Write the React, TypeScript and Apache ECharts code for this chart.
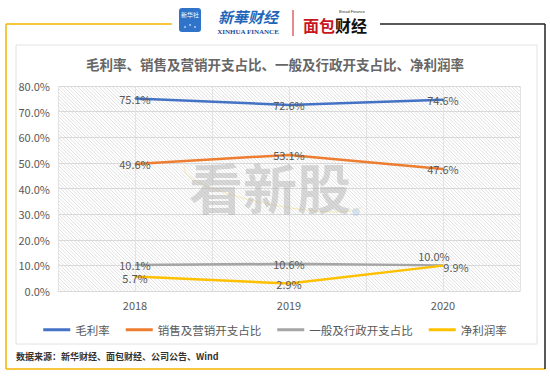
import { useEffect, useRef } from "react";
import * as echarts from "echarts";

const years = ["2018", "2019", "2020"];
const grossMargin = [75.1, 72.6, 74.6];
const sellingRatio = [49.6, 53.1, 47.6];
const adminRatio = [10.1, 10.6, 10.0];
const netMargin = [5.7, 2.9, 9.9];
const seriesNames = ["毛利率", "销售及营销开支占比", "一般及行政开支占比", "净利润率"];
const seriesColors = ["#4472C4", "#ED7D31", "#A5A5A5", "#FFC000"];
const yMin = 0;
const yMax = 80;
const yStep = 10;
const titleText = "毛利率、销售及营销开支占比、一般及行政开支占比、净利润率";
const sourceText = "数据来源：新华财经、面包财经、公司公告、Wind";

const FONT = '"Noto Sans CJK SC", "Noto Sans", sans-serif';

// decorative diagonal hatch for the plot background
function hatchLines(x0: number, y0: number, w: number, h: number, step: number) {
  const out: any[] = [];
  for (let c = -h; c < w; c += step) {
    const sx = c < 0 ? x0 : x0 + c;
    const sy = c < 0 ? y0 - c : y0;
    const ex = c + h > w ? x0 + w : x0 + c + h;
    const ey = c + h > w ? y0 + (w - c) : y0 + h;
    out.push({
      type: "line",
      z: -11,
      silent: true,
      shape: { x1: sx, y1: sy, x2: ex, y2: ey },
      style: { stroke: "#dedede", lineWidth: 0.9 },
    });
  }
  return out;
}

export default function App() {
  const ref = useRef<HTMLDivElement>(null);
  useEffect(() => {
    if (!ref.current) return;
    const chart = echarts.init(ref.current, null, { renderer: "svg" });
    const allData = [grossMargin, sellingRatio, adminRatio, netMargin];
    const labelFmt = (p: any) => `${Number(p.value).toFixed(1)}%`;

    const series = allData.map((arr, si) => ({
      name: seriesNames[si],
      type: "line",
      xAxisIndex: 0,
      yAxisIndex: 0,
      data: arr.map((v, i) => {
        if (si === 2 && i === 2) return { value: v, label: { offset: [-9, -9] } };
        if (si === 3 && i === 2) return { value: v, label: { offset: [13, 1] } };
        if (si === 3 && i === 0) return { value: v, label: { offset: [0, 2] } };
        return v;
      }),
      symbol: "circle",
      symbolSize: 1,
      showSymbol: true,
      lineStyle: { color: seriesColors[si], width: 2.5 },
      itemStyle: { color: seriesColors[si] },
      label: {
        show: true,
        position: "inside",
        formatter: labelFmt,
        color: "#595959",
        fontSize: 11,
        fontFamily: FONT,
      },
      z: 3,
    }));

    const frameYellow = "#F4B400";
    chart.setOption({
      animation: false,
      backgroundColor: "#ffffff",
      textStyle: { fontFamily: FONT },
      grid: {
        left: 58,
        right: 30,
        top: 86,
        bottom: 85,
        show: false,
      },
      legend: {
        top: 319,
        left: "center",
        icon: "rect",
        itemWidth: 27,
        itemHeight: 3,
        itemGap: 16,
        data: seriesNames,
        textStyle: { color: "#595959", fontSize: 11.5, fontFamily: FONT },
      },
      xAxis: [
        {
          type: "category",
          data: years,
          boundaryGap: true,
          axisLine: { show: true, lineStyle: { color: "#d9d9d9" } },
          axisTick: { show: false },
          axisLabel: { color: "#595959", fontSize: 11, margin: 8 },
          splitLine: { show: false },
        },
        {
          type: "value",
          min: 0,
          max: 6,
          interval: 1,
          show: true,
          position: "bottom",
          axisLine: { show: false },
          axisTick: { show: false },
          axisLabel: { show: false },
          splitLine: { show: true, lineStyle: { color: "#e3e3e3", width: 1 } },
        },
      ],
      yAxis: {
        type: "value",
        min: yMin,
        max: yMax,
        interval: yStep,
        axisLine: { show: false },
        axisTick: { show: false },
        axisLabel: {
          color: "#595959",
          fontSize: 11,
          margin: 8,
          formatter: (v: number) => `${v.toFixed(1)}%`,
        },
        splitLine: { show: true, lineStyle: { color: "#d9d9d9", width: 1 } },
      },
      graphic: [
        // outer frame
        { type: "line", z: -20, shape: { x1: 6, y1: 24, x2: 6, y2: 369 }, style: { stroke: frameYellow, lineWidth: 1.5 } },
        { type: "line", z: -20, shape: { x1: 6, y1: 24, x2: 172, y2: 24 }, style: { stroke: frameYellow, lineWidth: 1.5 } },
        { type: "line", z: -20, shape: { x1: 6, y1: 369, x2: 545, y2: 369 }, style: { stroke: frameYellow, lineWidth: 1.5 } },
        { type: "line", z: -20, shape: { x1: 380, y1: 24, x2: 545, y2: 24 }, style: { stroke: "#222", lineWidth: 1.5 } },
        { type: "line", z: -20, shape: { x1: 545, y1: 24, x2: 545, y2: 369 }, style: { stroke: "#222", lineWidth: 1.5 } },
        // inner panel
        { type: "rect", z: -30, shape: { x: 16, y: 45, width: 521, height: 299 }, style: { fill: "#ffffff", stroke: "#e2e2e2", lineWidth: 1 } },
        // plot area hatch
        ...hatchLines(58, 86, 462, 205, 3.5),
        // logo
        { type: "rect", shape: { x: 179, y: 8, width: 22, height: 24, r: 3 }, style: { fill: "#2F74C8" } },
        { type: "text", x: 190, y: 14, style: { text: "新华社", fontSize: 6, fill: "#fff", align: "center", verticalAlign: "middle", fontFamily: FONT } },
        { type: "circle", shape: { cx: 185, cy: 27, r: 0.8 }, style: { fill: "#cfe3ff" } },
        { type: "circle", shape: { cx: 190, cy: 25, r: 0.8 }, style: { fill: "#cfe3ff" } },
        { type: "circle", shape: { cx: 195, cy: 27, r: 0.8 }, style: { fill: "#cfe3ff" } },
        { type: "text", x: 248, y: 16, style: { text: "新華财经", fontSize: 15, fontStyle: "italic", fontWeight: "bold", fill: "#2166B8", align: "center", verticalAlign: "middle", fontFamily: FONT } },
        { type: "text", x: 248, y: 32, style: { text: "XINHUA FINANCE", fontSize: 7, fontWeight: "bold", fill: "#1A4C9A", align: "center", verticalAlign: "middle", fontFamily: '"Liberation Serif", serif' } },
        { type: "line", shape: { x1: 293, y1: 10, x2: 293, y2: 36 }, style: { stroke: "#C8161D", lineWidth: 1 } },
        { type: "text", x: 352, y: 11, style: { text: "Bread Finance", fontSize: 4, fill: "#333", align: "center", verticalAlign: "middle" } },
        {
          type: "text", x: 335, y: 25,
          style: {
            text: "{r|面包}{b|财经}",
            align: "center", verticalAlign: "middle",
            rich: {
              r: { fontSize: 16, fontWeight: "bold", fill: "#C8161D", fontFamily: FONT },
              b: { fontSize: 16, fontWeight: "bold", fill: "#111", fontFamily: FONT },
            },
          },
        },
        // title
        { type: "text", x: 275, y: 64, style: { text: titleText, fontSize: 13.5, fontWeight: "bold", fill: "#666666", align: "center", verticalAlign: "middle", fontFamily: FONT } },
        // watermark
        { type: "bezierCurve", z: 1, shape: { x1: 185, y1: 165, cpx1: 170, cpy1: 190, cpx2: 340, cpy2: 225, x2: 362, y2: 207 }, style: { stroke: "rgba(245,215,120,0.5)", lineWidth: 1, fill: null } },
        { type: "text", z: 1, x: 270, y: 186, style: { text: "看新股", fontSize: 54, fontWeight: "bold", fill: "rgba(170,170,170,0.45)", align: "center", verticalAlign: "middle", fontFamily: FONT } },
        { type: "circle", z: 1, shape: { cx: 356, cy: 212, r: 4 }, style: { fill: "rgba(150,190,230,0.35)" } },
        // source
        { type: "text", x: 16, y: 356, style: { text: sourceText, fontSize: 9, fontWeight: "bold", fill: "#333", align: "left", verticalAlign: "middle", fontFamily: FONT } },
      ],
      series,
    });
    return () => chart.dispose();
  }, []);
  return (
    <div
      ref={ref}
      style={{ position: "fixed", left: 0, top: 0, width: 550, height: 376 }}
    />
  );
}
